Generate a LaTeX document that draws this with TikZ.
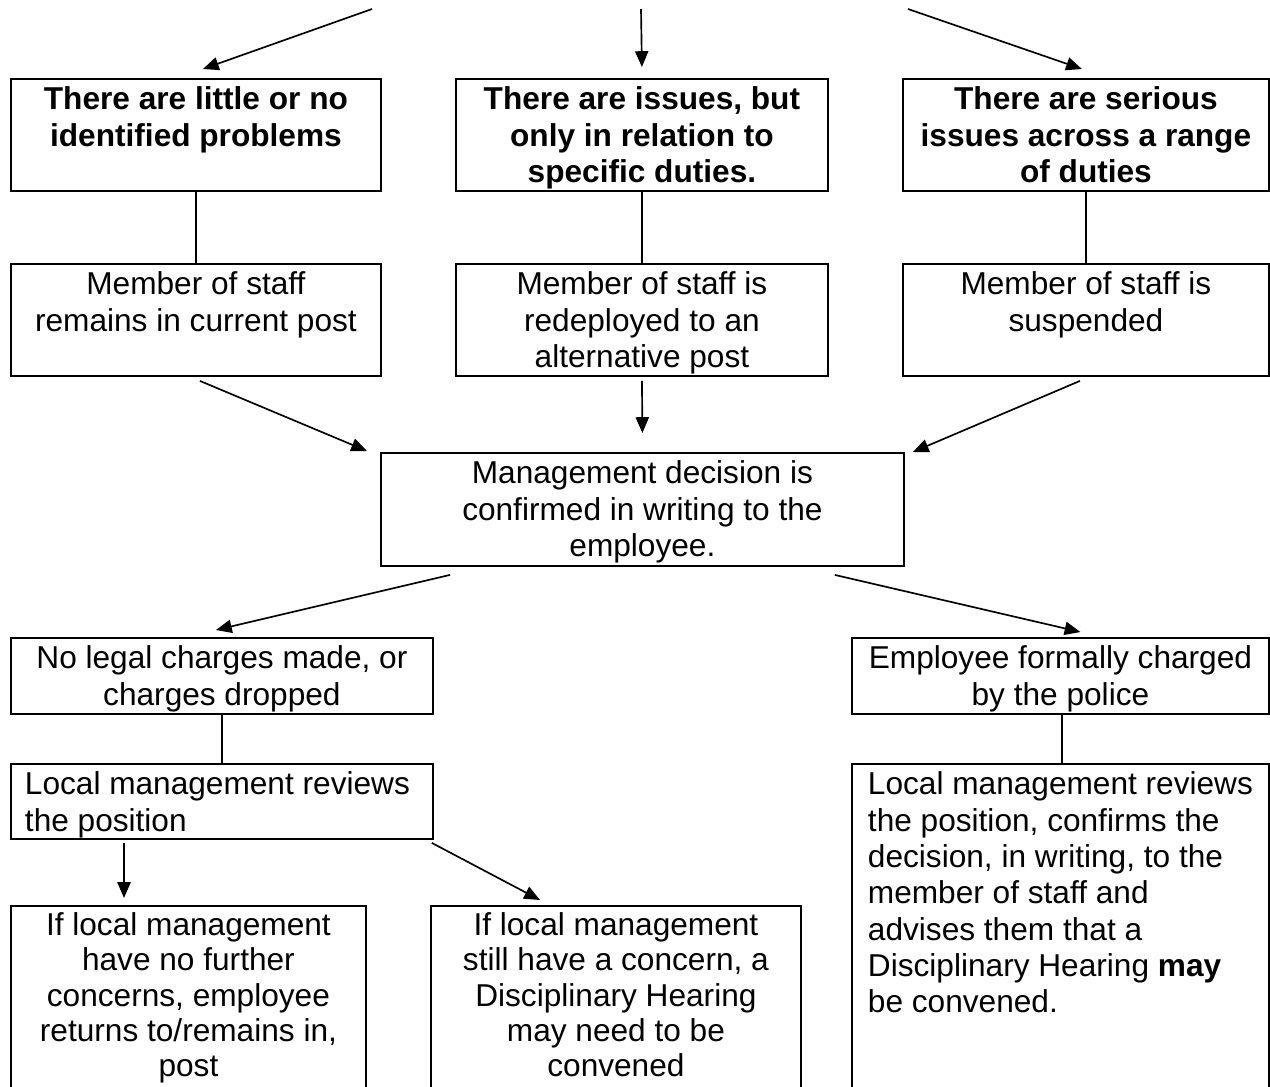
\documentclass[tikz,border=0pt]{standalone}
\usepackage{fontspec}
\setmainfont{Liberation Sans}
\usetikzlibrary{positioning,arrows.meta,calc}
\newcommand{\boxtext}[4][\centering]{\parbox[t][#2][t]{#3}{#1\vspace*{3pt}\strut#4}}

\begin{document}
\begin{tikzpicture}[
    x=0.02cm, y=-0.02cm,
    box/.style={draw, line width=1.1pt, inner sep=0pt, anchor=north west,
        font=\fontsize{18}{20.7}\selectfont},
    head/.style={box, font=\fontsize{18}{20.7}\selectfont\bfseries},
    tight/.style={box, font=\fontsize{18}{20}\selectfont},
    link/.style={line width=0.95pt},
    arr/.style={-{Triangle[length=9pt,width=7.5pt]}, line width=0.95pt},
]
\path[use as bounding box, fill=white] (0,0) rectangle (1270,1086);
\clip (0,0) rectangle (1270,1086);

\node[head] (noIssue) at (10,78) {\boxtext{2.24cm}{7.4cm}{There are little or no\\identified problems}};
\node[head] (someIssue) at (455,78) {\boxtext{2.24cm}{7.44cm}{There are issues, but\\only in relation to\\specific duties.}};
\node[head] (seriousIssue) at (902,78) {\boxtext{2.24cm}{7.32cm}{There are serious\\issues across a range\\of duties}};

\node[box] (stayPost) at (10,263) {\boxtext{2.24cm}{7.4cm}{Member of staff\\remains in current post}};
\node[box] (redeploy) at (455,263) {\boxtext{2.24cm}{7.44cm}{Member of staff is\\redeployed to an\\alternative post}};
\node[box] (suspend) at (902,263) {\boxtext{2.24cm}{7.32cm}{Member of staff is\\suspended}};

\node[box] (decision) at (380,452) {\boxtext{2.26cm}{10.46cm}{Management decision is\\confirmed in writing to the\\employee.}};

\node[box] (noCharge) at (10,637) {\boxtext{1.52cm}{8.44cm}{No legal charges made, or\\charges dropped}};
\node[box] (charged) at (851,637) {\boxtext{1.52cm}{8.34cm}{Employee formally charged\\by the police}};

\node[box] (reviewL) at (10,763) {\boxtext[\raggedright\leftskip=0.28cm]{1.5cm}{8.44cm}{Local management reviews\\the position}};
\node[box] (reviewR) at (851,763) {\boxtext[\raggedright\leftskip=0.32cm]{6.8cm}{8.34cm}{Local management reviews\\the position, confirms the\\decision, in writing, to the\\member of staff and\\advises them that a\\Disciplinary Hearing \textbf{may}\\be convened.}};

\node[tight] (noConcern) at (10,905) {\boxtext{4cm}{7.1cm}{If local management\\have no further\\concerns, employee\\returns to/remains in,\\post}};
\node[tight] (stillConcern) at (430,905) {\boxtext{4cm}{7.4cm}{If local management\\still have a concern, a\\Disciplinary Hearing\\may need to be\\convened}};

\coordinate (topL) at (372,9);
\coordinate (topM) at (641,9);
\coordinate (topR) at (908,9);

\draw[arr] (topL) -- ($(noIssue.north)+(7,-9)$);
\draw[arr] (topM) -- ($(someIssue.north)+(0,-11)$);
\draw[arr] (topR) -- ($(seriousIssue.north)+(-4,-9)$);

\draw[link] (noIssue) -- (stayPost);
\draw[link] (someIssue) -- (redeploy);
\draw[link] (seriousIssue) -- (suspend);

\draw[arr] ($(stayPost.south)+(4,4)$) -- ($(decision.north west)+(-13,-1)$);
\draw[arr] ($(redeploy.south)+(0,4)$) -- ($(decision.north)+(0,-19)$);
\draw[arr] ($(suspend.south)+(-6,4)$) -- ($(decision.north east)+(8,0)$);

\draw[arr] ($(decision.south west)+(70,8)$) -- ($(noCharge.north)+(-6,-7)$);
\draw[arr] ($(decision.south east)+(-70,8)$) -- ($(charged.north)+(20,-5)$);

\draw[link] (noCharge) -- (reviewL);
\draw[link] ([xshift=1pt]charged.south) -- ([xshift=1pt]reviewR.north);

\draw[arr] ($(reviewL.south west)+(114,3)$) -- ($(noConcern.north west)+(114,-7)$);
\draw[arr] ($(reviewL.south east)+(-2,3)$) -- ($(stillConcern.north west)+(110,-5)$);
\end{tikzpicture}
\end{document}
